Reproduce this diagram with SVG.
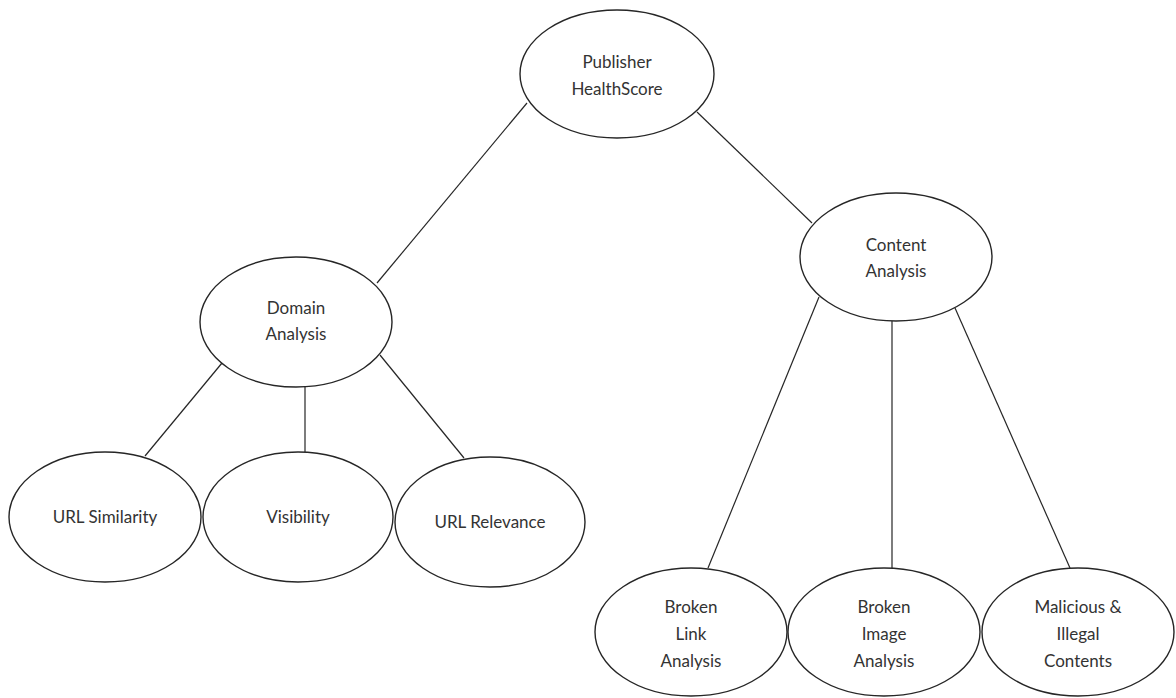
<svg xmlns="http://www.w3.org/2000/svg" width="1176" height="698" viewBox="0 0 1176 698">
<style>
.n ellipse{fill:#fff;stroke:#262626;stroke-width:1.4}
.n text{font-family:Lato,"Liberation Sans",sans-serif;font-size:17px;fill:#333;text-anchor:middle}
.c line{stroke:#262626;stroke-width:1.2}
</style>
<rect width="1176" height="698" fill="#fff"/>
<g id="connectors" class="c">
<line x1="527" y1="103" x2="377" y2="283"/>
<line x1="697" y1="112" x2="812" y2="223"/>
<line x1="222" y1="363" x2="145" y2="456"/>
<line x1="305" y1="387" x2="305" y2="452"/>
<line x1="380" y1="355" x2="464" y2="458"/>
<line x1="819" y1="297" x2="708" y2="568"/>
<line x1="892" y1="321" x2="892" y2="568"/>
<line x1="955" y1="308" x2="1070" y2="568"/>
</g>
<g id="publisher" class="n"><ellipse cx="617" cy="74" rx="97" ry="64"/><text x="617" y="68">Publisher</text><text x="617" y="95">HealthScore</text></g>
<g id="content" class="n"><ellipse cx="896" cy="257" rx="96" ry="64"/><text x="896" y="251">Content</text><text x="896" y="277">Analysis</text></g>
<g id="domain" class="n"><ellipse cx="296" cy="322" rx="96" ry="65"/><text x="296" y="314">Domain</text><text x="296" y="340">Analysis</text></g>
<g id="urlsim" class="n"><ellipse cx="105" cy="517" rx="96" ry="65"/><text x="105" y="523">URL Similarity</text></g>
<g id="visibility" class="n"><ellipse cx="298" cy="517" rx="95" ry="65"/><text x="298" y="523">Visibility</text></g>
<g id="urlrel" class="n"><ellipse cx="490" cy="522" rx="95" ry="65"/><text x="490" y="528">URL Relevance</text></g>
<g id="brokenlink" class="n"><ellipse cx="691" cy="632" rx="96" ry="64"/><text x="691" y="613">Broken</text><text x="691" y="640">Link</text><text x="691" y="667">Analysis</text></g>
<g id="brokenimage" class="n"><ellipse cx="884" cy="632" rx="96" ry="64"/><text x="884" y="613">Broken</text><text x="884" y="640">Image</text><text x="884" y="667">Analysis</text></g>
<g id="malicious" class="n"><ellipse cx="1078" cy="632" rx="96" ry="64"/><text x="1078" y="613">Malicious &amp;</text><text x="1078" y="640">Illegal</text><text x="1078" y="667">Contents</text></g>
</svg>
